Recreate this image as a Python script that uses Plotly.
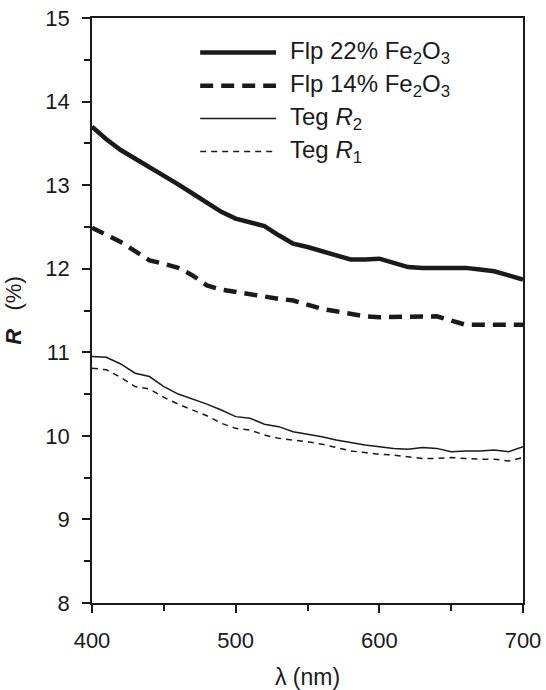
import plotly.graph_objects as go

# Wavelength grid (nm)
wavelength = [400, 410, 420, 430, 440, 450, 460, 470, 480, 490, 500,
              510, 520, 530, 540, 550, 560, 570, 580, 590, 600,
              610, 620, 630, 640, 650, 660, 670, 680, 690, 700]

# Reflectance (%) for each sample
flp_22 = [13.70, 13.55, 13.42, 13.32, 13.22, 13.12, 13.01, 12.90, 12.79, 12.68, 12.60,
          12.55, 12.51, 12.40, 12.30, 12.26, 12.21, 12.16, 12.11, 12.11, 12.12,
          12.07, 12.02, 12.01, 12.01, 12.01, 12.01, 11.99, 11.97, 11.92, 11.87]
flp_14 = [12.49, 12.40, 12.32, 12.21, 12.10, 12.06, 12.01, 11.92, 11.80, 11.75, 11.72,
          11.70, 11.67, 11.64, 11.62, 11.57, 11.52, 11.49, 11.46, 11.43, 11.42,
          11.42, 11.42, 11.43, 11.43, 11.38, 11.33, 11.33, 11.33, 11.33, 11.33]
teg_r2 = [10.95, 10.94, 10.86, 10.75, 10.71, 10.59, 10.50, 10.44, 10.38, 10.31, 10.23,
          10.21, 10.14, 10.11, 10.05, 10.02, 9.99, 9.95, 9.92, 9.89, 9.87,
          9.85, 9.84, 9.86, 9.85, 9.81, 9.82, 9.82, 9.83, 9.81, 9.87]
teg_r1 = [10.81, 10.79, 10.70, 10.59, 10.56, 10.46, 10.38, 10.31, 10.24, 10.15, 10.09,
          10.07, 10.01, 9.97, 9.95, 9.93, 9.90, 9.86, 9.82, 9.80, 9.78,
          9.77, 9.75, 9.73, 9.73, 9.74, 9.73, 9.72, 9.72, 9.70, 9.74]

series_names = ["Flp 22% Fe<sub>2</sub>O<sub>3</sub>",
                "Flp 14% Fe<sub>2</sub>O<sub>3</sub>",
                "Teg <i>R</i><sub>2</sub>",
                "Teg <i>R</i><sub>1</sub>"]
series_values = [flp_22, flp_14, teg_r2, teg_r1]
line_styles = [dict(width=4.5, dash="solid"),
               dict(width=4.5, dash="13px,8px"),
               dict(width=1.5, dash="solid"),
               dict(width=1.5, dash="6px,5px")]

INK = "#1a1a1a"
FONT = "Liberation Sans, Arial, sans-serif"

fig = go.Figure()
for name, vals, st in zip(series_names, series_values, line_styles):
    fig.add_trace(go.Scatter(x=wavelength, y=vals, mode="lines", name=name,
                             line=dict(color=INK, width=st["width"], dash=st["dash"]),
                             showlegend=False))

# Legend drawn as key lines + labels in the upper part of the plot
key_x0, key_x1, text_x = 0.251, 0.427, 0.455
row_y = [0.941, 0.884, 0.828, 0.772]
for name, st, yy in zip(series_names, line_styles, row_y):
    fig.add_shape(type="line", xref="paper", yref="paper",
                  x0=key_x0, x1=key_x1, y0=yy, y1=yy,
                  line=dict(color=INK, width=st["width"], dash=st["dash"]))
    fig.add_annotation(xref="paper", yref="paper", x=text_x, y=yy,
                       text=name, showarrow=False, xanchor="left", yanchor="middle",
                       font=dict(family=FONT, size=24, color=INK))

axis_common = dict(showline=True, linecolor=INK, linewidth=1.8, mirror=True,
                   showgrid=False, zeroline=False, ticks="outside", ticklen=8,
                   tickwidth=1.5, tickcolor=INK, automargin=False,
                   tickfont=dict(family=FONT, size=22, color=INK))

fig.update_xaxes(range=[400, 700], tickvals=[400, 500, 600, 700],
                 minor=dict(tickvals=[450, 550, 650], ticks="outside", ticklen=6,
                            tickwidth=1.5, tickcolor=INK),
                 ticklabelstandoff=9,
                 title=dict(text="λ (nm)", standoff=18,
                            font=dict(family=FONT, size=23, color=INK)),
                 **axis_common)
fig.update_yaxes(range=[8, 15], tickvals=[8, 9, 10, 11, 12, 13, 14, 15],
                 minor=dict(tickvals=[8.5, 9.5, 10.5, 11.5, 12.5, 13.5, 14.5],
                            ticks="outside", ticklen=6, tickwidth=1.5, tickcolor=INK),
                 ticklabelstandoff=8,
                 title=dict(text="<b><i>R</i></b>   (%)", standoff=18,
                            font=dict(family=FONT, size=22, color=INK)),
                 **axis_common)

fig.update_layout(width=546, height=690,
                  margin=dict(l=92, r=23, t=18, b=87),
                  paper_bgcolor="white", plot_bgcolor="white",
                  font=dict(family=FONT, color=INK))

fig.write_html("out.html")
